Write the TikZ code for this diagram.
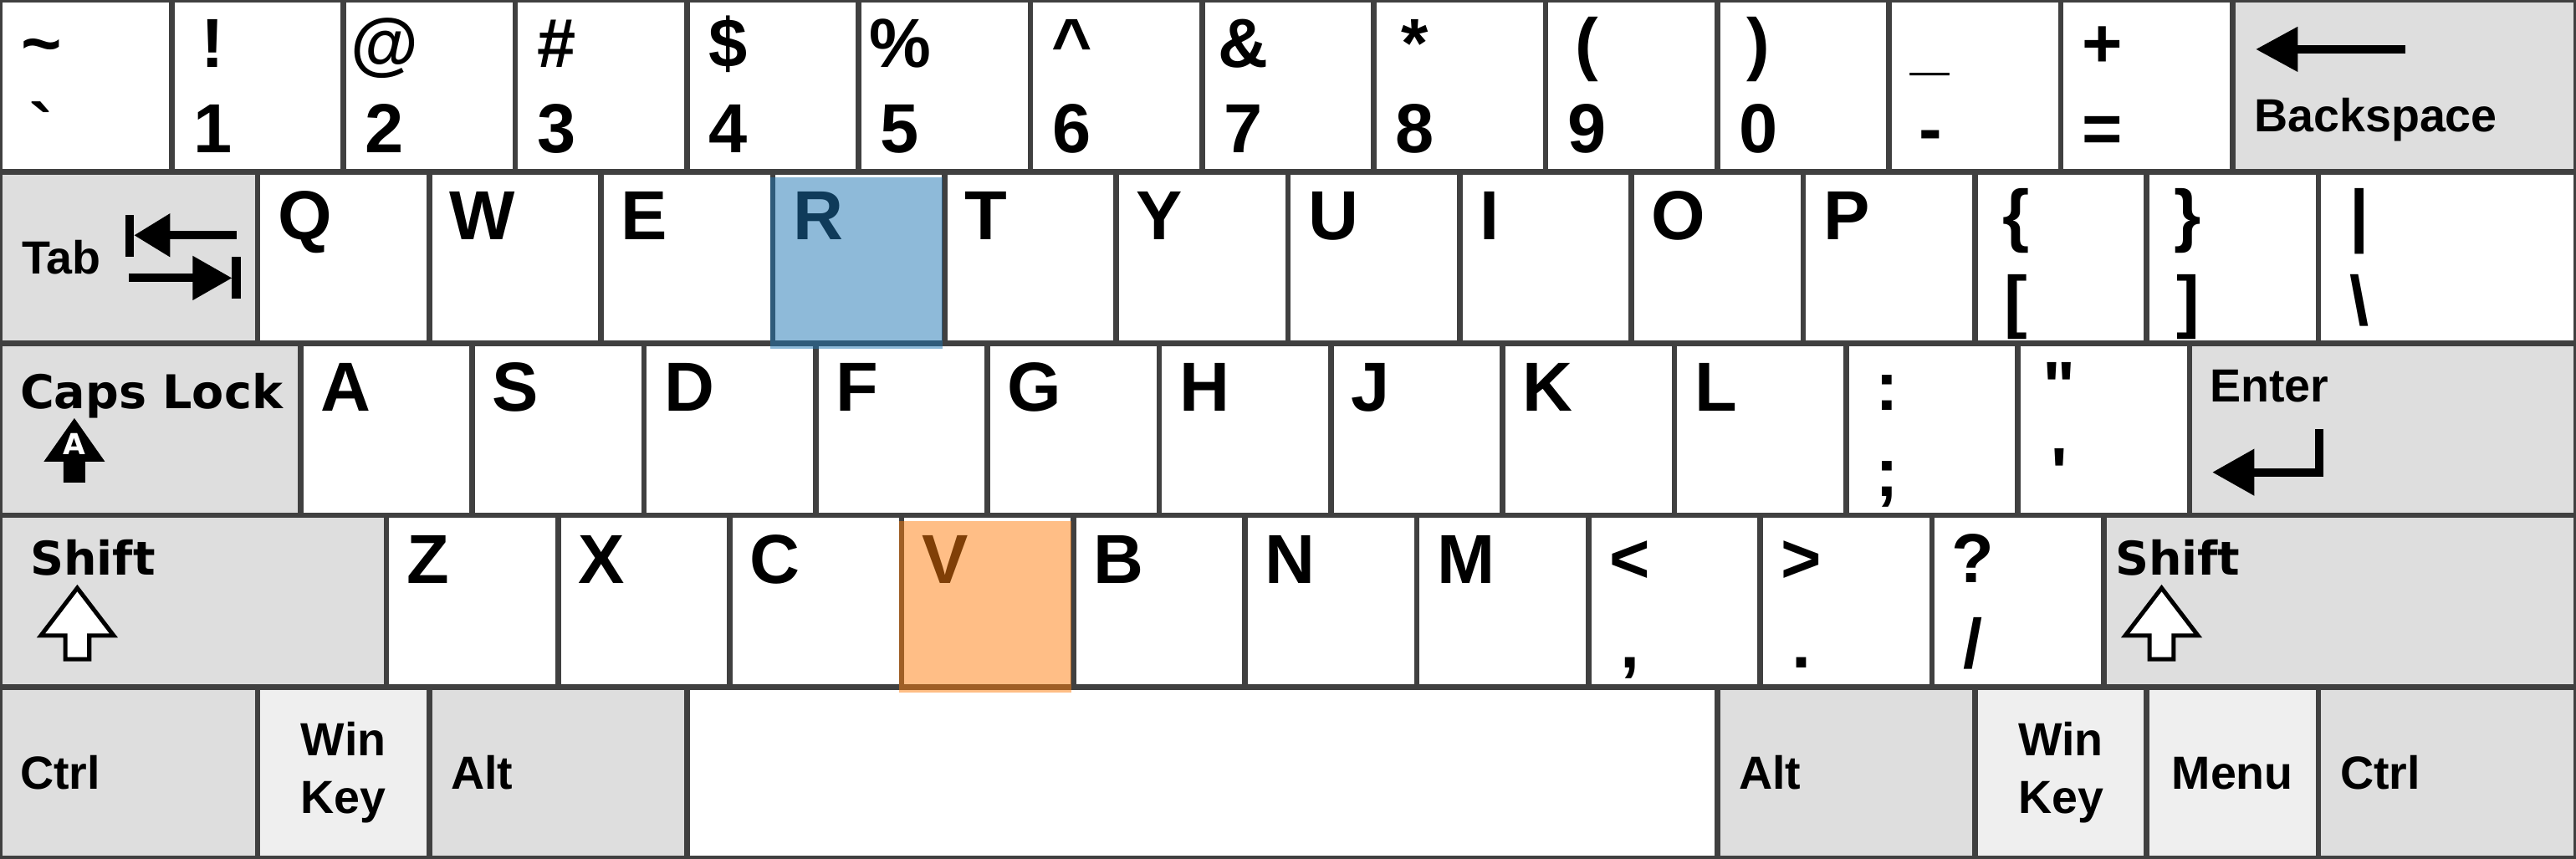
\documentclass[tikz,border=0pt]{standalone}
\usepackage{fontspec}
\usepackage{tikz}
\usetikzlibrary{arrows.meta}
\newfontfamily\keyfont{Liberation Sans}
\newfontfamily\veryfont{DejaVu Sans}
\definecolor{keyline}{HTML}{404040}
\definecolor{modfill}{HTML}{DEDEDE}
\definecolor{winfill}{HTML}{EFEFEF}
\definecolor{tabblue}{HTML}{1F77B4}
\definecolor{taborange}{HTML}{FF7F0E}
% key with a shifted symbol above and an unshifted one below
\newcommand{\dualkey}[6][]{%
  \node[keybox,#1] (#2) at (#3,#4) {};
  \node[keysym] (#2-up) at ([xshift=2.4mm,yshift=-3.9mm]#2.north west) {#5};
  \node[keysym] (#2-lo) at ([xshift=2.4mm,yshift=-8.9mm]#2.north west) {#6};}
% key with a single letter
\newcommand{\letterkey}[4]{%
  \node[keybox] (#1) at (#2,#3) {};
  \node[keyletter] (#1-t) at ([xshift=1.1mm,yshift=-3.95mm]#1.north west) {#4};}

\begin{document}
\begin{tikzpicture}[
  keybox/.style={draw=keyline,line width=0.9pt,fill=white,rectangle,
    inner sep=0pt,outer sep=0pt,minimum width=1cm,minimum height=1cm,
    anchor=north west},
  modkey/.style={keybox,fill=modfill},
  winkey/.style={keybox,fill=winfill},
  keyletter/.style={font={\keyfont\bfseries\fontsize{11.5}{12}\selectfont},
    anchor=base west,inner sep=0pt},
  keysym/.style={font={\keyfont\bfseries\fontsize{11.5}{12}\selectfont},
    anchor=base,inner sep=0pt},
  keylabel/.style={font={\keyfont\bfseries\fontsize{7.7}{9}\selectfont},
    anchor=base west,inner sep=0pt},
  veralabel/.style={font={\veryfont\bfseries\fontsize{7.7}{9}\selectfont},
    anchor=base west,inner sep=0pt},
  glyph/.style={line width=1.4pt,black},
  hollow/.style={line width=0.7pt,black,fill=white,line join=miter},
  hilite/.style={rectangle,inner sep=0pt,minimum width=1cm,
    minimum height=1cm,anchor=north west,fill opacity=0.5}
]
  \useasboundingbox (0,0) rectangle (15,5);

  % number row
  \dualkey{tld}{0}{5}{\textasciitilde}{\textasciigrave}
  \dualkey{d1}{1}{5}{!}{1}
  \dualkey{d2}{2}{5}{@}{2}
  \dualkey{d3}{3}{5}{\#}{3}
  \dualkey{d4}{4}{5}{\$}{4}
  \dualkey{d5}{5}{5}{\%}{5}
  \dualkey{d6}{6}{5}{\textasciicircum}{6}
  \dualkey{d7}{7}{5}{\&}{7}
  \dualkey{d8}{8}{5}{*}{8}
  \dualkey{d9}{9}{5}{(}{9}
  \dualkey{d0}{10}{5}{)}{0}
  \dualkey{minus}{11}{5}{\_}{-}
  \dualkey{equal}{12}{5}{+}{=}
  \node[modkey,minimum width=2cm] (bksp) at (13,5) {};
  \node[keylabel] (bksp-t) at ([xshift=1.2mm,yshift=-7.65mm]bksp.north west)
    {Backspace};
  \draw[glyph,-{Triangle[length=2.45mm,width=2.5mm]}]
    (14.007,4.713) -- (13.135,4.713);

  % top letter row
  \node[modkey,minimum width=1.5cm] (tab) at (0,4) {};
  \node[keylabel] (tab-t) at ([xshift=1.2mm,yshift=-5.94mm]tab.north west) {Tab};
  \draw[glyph] (0.755,3.747) -- (0.755,3.503);
  \draw[glyph,-{Triangle[length=2.1mm,width=2.4mm]}]
    (1.378,3.630) -- (0.780,3.630);
  \draw[glyph,-{Triangle[length=2.3mm,width=2.45mm]}]
    (0.750,3.381) -- (1.352,3.381);
  \draw[glyph] (1.376,3.503) -- (1.376,3.260);
  \foreach \ch [count=\i from 0] in {Q,W,E,R,T,Y,U,I,O,P}
    {\letterkey{key\ch}{1.5+\i}{4}{\ch}}
  \dualkey{lbrack}{11.5}{4}{\{}{[}
  \dualkey{rbrack}{12.5}{4}{\}}{]}
  \dualkey[minimum width=1.5cm]{bslash}{13.5}{4}{|}{\textbackslash}

  % home row
  \node[modkey,minimum width=1.75cm] (caps) at (0,3) {};
  \node[veralabel] (caps-t) at ([xshift=1.1mm,yshift=-3.81mm]caps.north west)
    {Caps Lock};
  \fill[black] (0.433,2.565) -- (0.611,2.312) -- (0.496,2.312) -- (0.496,2.190)
    -- (0.370,2.190) -- (0.370,2.312) -- (0.255,2.312) -- cycle;
  \node[font={\veryfont\bfseries\fontsize{4.8}{5}\selectfont},text=white,
    inner sep=0pt] (caps-a) at (0.433,2.415) {A};
  \foreach \ch [count=\i from 0] in {A,S,D,F,G,H,J,K,L}
    {\letterkey{key\ch}{1.75+\i}{3}{\ch}}
  \dualkey{semi}{10.75}{3}{:}{;}
  \dualkey{quote}{11.75}{3}{\textquotedbl}{\textquotesingle}
  \node[modkey,minimum width=2.25cm] (enter) at (12.75,3) {};
  \node[keylabel] (enter-t) at ([xshift=1.1mm,yshift=-3.38mm]enter.north west)
    {Enter};
  \draw[glyph,-{Triangle[length=2.45mm,width=2.6mm]}]
    (13.505,2.503) |- (12.882,2.250);

  % bottom letter row
  \node[modkey,minimum width=2.25cm] (shiftl) at (0,2) {};
  \node[veralabel] (shiftl-t) at ([xshift=1.7mm,yshift=-3.46mm]shiftl.north west)
    {Shift};
  \draw[hollow] (0.450,1.576) -- (0.662,1.299) -- (0.520,1.299) -- (0.520,1.162)
    -- (0.380,1.162) -- (0.380,1.299) -- (0.238,1.299) -- cycle;
  \foreach \ch [count=\i from 0] in {Z,X,C,V,B,N,M}
    {\letterkey{key\ch}{2.25+\i}{2}{\ch}}
  \dualkey{comma}{9.25}{2}{<}{,}
  \dualkey{period}{10.25}{2}{>}{.}
  \dualkey{slash}{11.25}{2}{?}{/}
  \node[modkey,minimum width=2.75cm] (shiftr) at (12.25,2) {};
  \node[veralabel] (shiftr-t) at ([xshift=0.6mm,yshift=-3.46mm]shiftr.north west)
    {Shift};
  \draw[hollow] (12.587,1.576) -- (12.799,1.299) -- (12.657,1.299)
    -- (12.657,1.162) -- (12.517,1.162) -- (12.517,1.299) -- (12.375,1.299)
    -- cycle;

  % space bar row
  \node[modkey,minimum width=1.5cm] (ctrll) at (0,1) {};
  \node[winkey] (winl) at (1.5,1) {};
  \node[modkey,minimum width=1.5cm] (altl) at (2.5,1) {};
  \node[keybox,minimum width=6cm] (space) at (4,1) {};
  \node[modkey,minimum width=1.5cm] (altr) at (10,1) {};
  \node[winkey] (winr) at (11.5,1) {};
  \node[winkey] (menu) at (12.5,1) {};
  \node[modkey,minimum width=1.5cm] (ctrlr) at (13.5,1) {};
  \node[keylabel] (ctrll-t) at ([xshift=1.1mm,yshift=-5.93mm]ctrll.north west)
    {Ctrl};
  \node[keylabel,anchor=base] (winl-t1) at ([yshift=-3.98mm]winl.north) {Win};
  \node[keylabel,anchor=base] (winl-t2) at ([yshift=-7.34mm]winl.north) {Key};
  \node[keylabel] (altl-t) at ([xshift=1.2mm,yshift=-5.93mm]altl.north west)
    {Alt};
  \node[keylabel] (altr-t) at ([xshift=1.2mm,yshift=-5.93mm]altr.north west)
    {Alt};
  \node[keylabel,anchor=base] (winr-t1) at ([yshift=-3.98mm]winr.north) {Win};
  \node[keylabel,anchor=base] (winr-t2) at ([yshift=-7.34mm]winr.north) {Key};
  \node[keylabel,anchor=base] (menu-t) at ([yshift=-5.93mm]menu.north) {Menu};
  \node[keylabel] (ctrlr-t) at ([xshift=1.2mm,yshift=-5.93mm]ctrlr.north west)
    {Ctrl};

  % highlighted keys
  \node[hilite,fill=tabblue,xshift=-0.2mm,yshift=-0.25mm] (markr)
    at (keyR.north west) {};
  \node[hilite,fill=taborange,xshift=-0.2mm,yshift=-0.25mm] (markv)
    at (keyV.north west) {};
\end{tikzpicture}
\end{document}
